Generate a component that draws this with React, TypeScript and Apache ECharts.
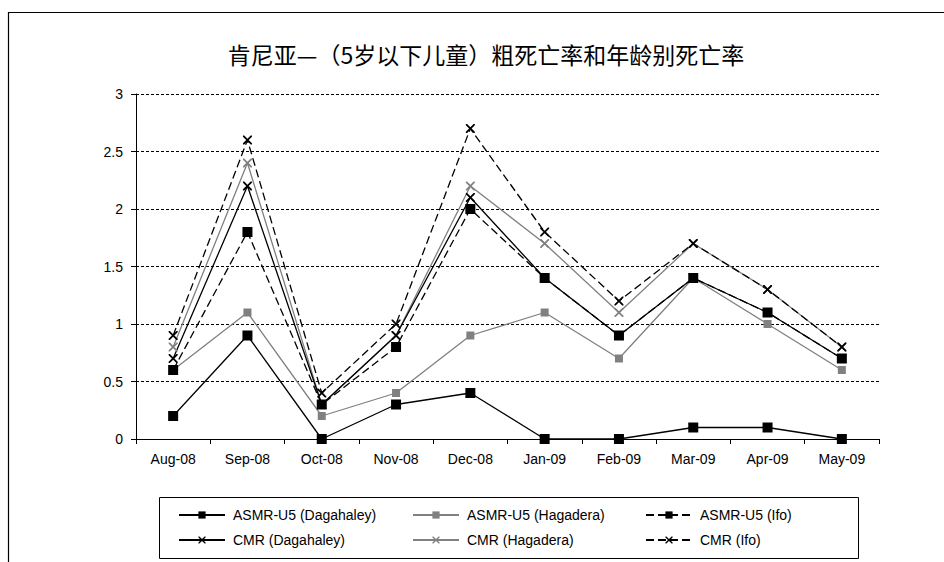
import React, { useEffect, useRef } from "react";
import * as echarts from "echarts";

const titleText = "肯尼亚—（5岁以下儿童）粗死亡率和年龄别死亡率";
const months = ["Aug-08", "Sep-08", "Oct-08", "Nov-08", "Dec-08", "Jan-09", "Feb-09", "Mar-09", "Apr-09", "May-09"];

const asmrDagahaley = [0.2, 0.9, 0.0, 0.3, 0.4, 0.0, 0.0, 0.1, 0.1, 0.0];
const asmrHagadera = [0.6, 1.1, 0.2, 0.4, 0.9, 1.1, 0.7, 1.4, 1.0, 0.6];
const asmrIfo = [0.6, 1.8, 0.3, 0.8, 2.0, 1.4, 0.9, 1.4, 1.1, 0.7];
const cmrDagahaley = [0.7, 2.2, 0.3, 0.9, 2.1, 1.4, 0.9, 1.4, 1.1, 0.7];
const cmrHagadera = [0.8, 2.4, 0.3, 0.9, 2.2, 1.7, 1.1, 1.7, 1.3, 0.8];
const cmrIfo = [0.9, 2.6, 0.4, 1.0, 2.7, 1.8, 1.2, 1.7, 1.3, 0.8];

const seriesNames = [
  "ASMR-U5 (Dagahaley)",
  "ASMR-U5 (Hagadera)",
  "ASMR-U5 (Ifo)",
  "CMR (Dagahaley)",
  "CMR (Hagadera)",
  "CMR (Ifo)",
];

const CROSS =
  "path://M0,0L1.4,0L5,3.6L8.6,0L10,0L10,1.4L6.4,5L10,8.6L10,10L8.6,10L5,6.4L1.4,10L0,10L0,8.6L3.6,5L0,1.4Z";

const FONT = "'Liberation Sans', Arial, sans-serif";
const BLACK = "#000000";
const GRAY = "#808080";

export default function App() {
  const ref = useRef<HTMLDivElement>(null);

  useEffect(() => {
    if (!ref.current) return;
    const chart = echarts.init(ref.current, null, { renderer: "svg" });

    const mk = (
      name: string,
      data: number[],
      color: string,
      dashed: boolean,
      symbol: string,
      symbolSize: number
    ) => ({
      name,
      type: "line",
      data,
      symbol,
      symbolSize,
      showAllSymbol: true,
      lineStyle: { color, width: 1.3, type: dashed ? [8, 4] : "solid" },
      itemStyle: { color, borderWidth: 0 },
      emphasis: { disabled: true },
    });

    const series = [
      mk(seriesNames[4], cmrHagadera, GRAY, false, CROSS, 9),
      mk(seriesNames[1], asmrHagadera, GRAY, false, "rect", 8),
      mk(seriesNames[5], cmrIfo, BLACK, true, CROSS, 9),
      mk(seriesNames[3], cmrDagahaley, BLACK, false, CROSS, 9),
      mk(seriesNames[2], asmrIfo, BLACK, true, "rect", 10),
      mk(seriesNames[0], asmrDagahaley, BLACK, false, "rect", 10),
    ];

    const legendPos = [
      { name: seriesNames[0], left: 178, top: 508 },
      { name: seriesNames[1], left: 412, top: 508 },
      { name: seriesNames[2], left: 645, top: 508 },
      { name: seriesNames[3], left: 178, top: 533 },
      { name: seriesNames[4], left: 412, top: 533 },
      { name: seriesNames[5], left: 645, top: 533 },
    ];

    const legends = legendPos.map((p) => ({
      data: [p.name],
      left: p.left,
      top: p.top,
      padding: 0,
      itemWidth: 46,
      itemHeight: 9,
      itemGap: 0,
      selectedMode: false,
      textStyle: { fontFamily: FONT, fontSize: 14, color: "#000", padding: [0, 0, 0, 3] },
    }));

    chart.setOption({
      animation: false,
      backgroundColor: "#ffffff",
      title: {
        text: titleText,
        left: 481,
        top: 37,
        textAlign: "center",
        textStyle: {
          fontFamily: "'Noto Sans CJK SC', sans-serif",
          fontSize: 23,
          fontWeight: "normal",
          color: "#000",
        },
      },
      legend: legends,
      grid: { left: 136, right: 65, top: 94, bottom: 123, containLabel: false },
      xAxis: {
        type: "category",
        data: months,
        boundaryGap: true,
        axisLine: { show: true, lineStyle: { color: "#000", width: 1 } },
        axisTick: { show: true, length: 5, alignWithLabel: false, lineStyle: { color: "#000" } },
        axisLabel: { fontFamily: FONT, fontSize: 14, color: "#000", margin: 13 },
        splitLine: { show: false },
      },
      yAxis: {
        type: "value",
        min: 0,
        max: 3,
        interval: 0.5,
        axisLine: { show: true, lineStyle: { color: "#000", width: 1 } },
        axisTick: { show: true, length: 5, lineStyle: { color: "#000" } },
        axisLabel: { fontFamily: FONT, fontSize: 14, color: "#000", margin: 13 },
        splitLine: { show: true, lineStyle: { color: "#000", width: 1, type: [3, 2] } },
      },
      graphic: [
        {
          type: "line",
          shape: { x1: 8.5, y1: 12, x2: 8.5, y2: 562 },
          style: { stroke: "#000", lineWidth: 1.2 },
          silent: true,
        },
        {
          type: "line",
          shape: { x1: 8, y1: 12.5, x2: 944, y2: 12.5 },
          style: { stroke: "#000", lineWidth: 1.2 },
          silent: true,
        },
        {
          type: "rect",
          shape: { x: 159.5, y: 497.5, width: 699, height: 61 },
          style: { fill: "none", stroke: "#000", lineWidth: 1 },
          silent: true,
          z: -1,
        },
      ],
      series,
    });

    return () => chart.dispose();
  }, []);

  return (
    <div
      ref={ref}
      style={{ position: "fixed", left: 0, top: 0, width: 944, height: 562, background: "#fff" }}
    />
  );
}
